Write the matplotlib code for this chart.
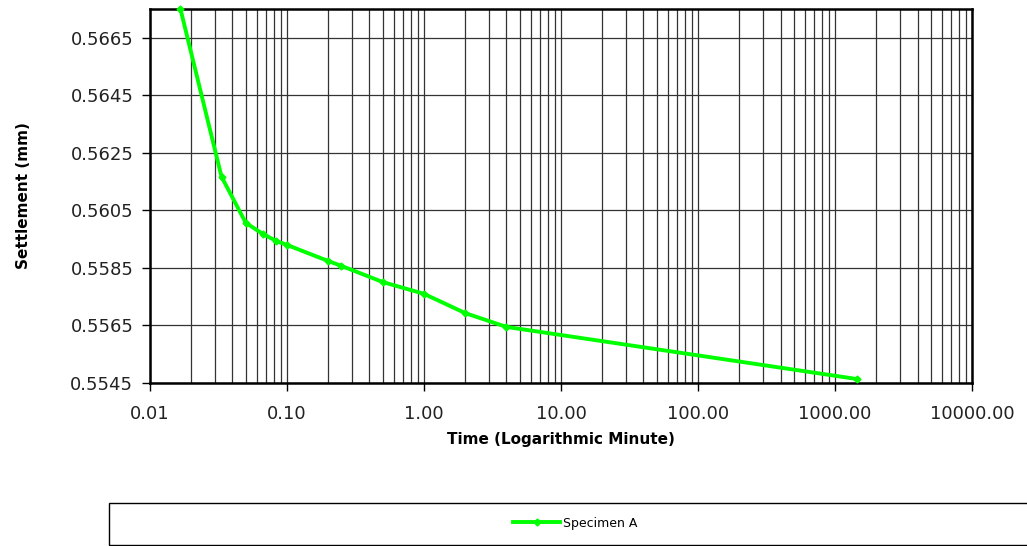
import numpy as np
import matplotlib
matplotlib.use('Agg')
import matplotlib.pyplot as plt
from matplotlib.ticker import FuncFormatter, LogLocator, FixedLocator
from matplotlib.patches import Rectangle

# Data (time in minutes, settlement in mm)
time_min = [0.0167, 0.0333, 0.05, 0.0667, 0.0833, 0.1, 0.2, 0.25, 0.5, 1.0, 2.0, 4.0, 1440.0]
settlement_mm = [0.56750, 0.56167, 0.56007, 0.55968, 0.55944, 0.55930, 0.55874, 0.55857,
                 0.55801, 0.55760, 0.55693, 0.55645, 0.55464]
series_label = 'Specimen A'
y_ticks = [0.5545, 0.5565, 0.5585, 0.5605, 0.5625, 0.5645, 0.5665]
x_ticks = [0.01, 0.1, 1, 10, 100, 1000, 10000]

plt.rcParams['font.family'] = ['DejaVu Sans']

fig = plt.figure(figsize=(10.27, 5.46), dpi=100)
ax = fig.add_axes([0.146, 0.2985, 0.8005, 0.685])

ax.plot(time_min, settlement_mm, color='#00FF00', lw=2.8, marker='D', ms=3.5,
        label=series_label, solid_joinstyle='miter', zorder=3, clip_on=False)

ax.set_xscale('log')
ax.set_xlim(0.01, 10000)
ax.set_ylim(0.5545, 0.5675)

ax.xaxis.set_major_locator(FixedLocator(x_ticks))
ax.xaxis.set_minor_locator(LogLocator(base=10, subs=np.arange(2, 10)))
ax.xaxis.set_major_formatter(FuncFormatter(lambda v, p: '%.2f' % v))
ax.yaxis.set_major_locator(FixedLocator(y_ticks))
ax.yaxis.set_major_formatter(FuncFormatter(lambda v, p: '%.4f' % v))

ax.grid(which='major', axis='both', color='#333333', lw=0.9)
ax.grid(which='minor', axis='x', color='#333333', lw=0.9)
ax.tick_params(axis='both', which='major', direction='out', length=6, width=1,
               labelsize=13, pad=6, labelcolor='#222222')
ax.tick_params(axis='x', which='minor', length=0)
ax.tick_params(axis='x', which='major', pad=10)
for s in ax.spines.values():
    s.set_linewidth(1.8)
    s.set_color('black')

ax.set_xlabel('Time (Logarithmic Minute)', fontsize=11, fontweight='bold', labelpad=6)
ax.set_ylabel('Settlement (mm)', fontsize=11, fontweight='bold', labelpad=28)

# Legend box along the bottom
fig.patches.append(Rectangle((0.106, 0.002), 0.897, 0.077, transform=fig.transFigure,
                             fill=False, edgecolor='black', lw=1))
h, l = ax.get_legend_handles_labels()
fig.legend(h, l, loc='center', bbox_to_anchor=(0.56, 0.042), frameon=False,
           fontsize=9, handlelength=3.8, handletextpad=0.2)

fig.savefig('out.png', dpi=100)
